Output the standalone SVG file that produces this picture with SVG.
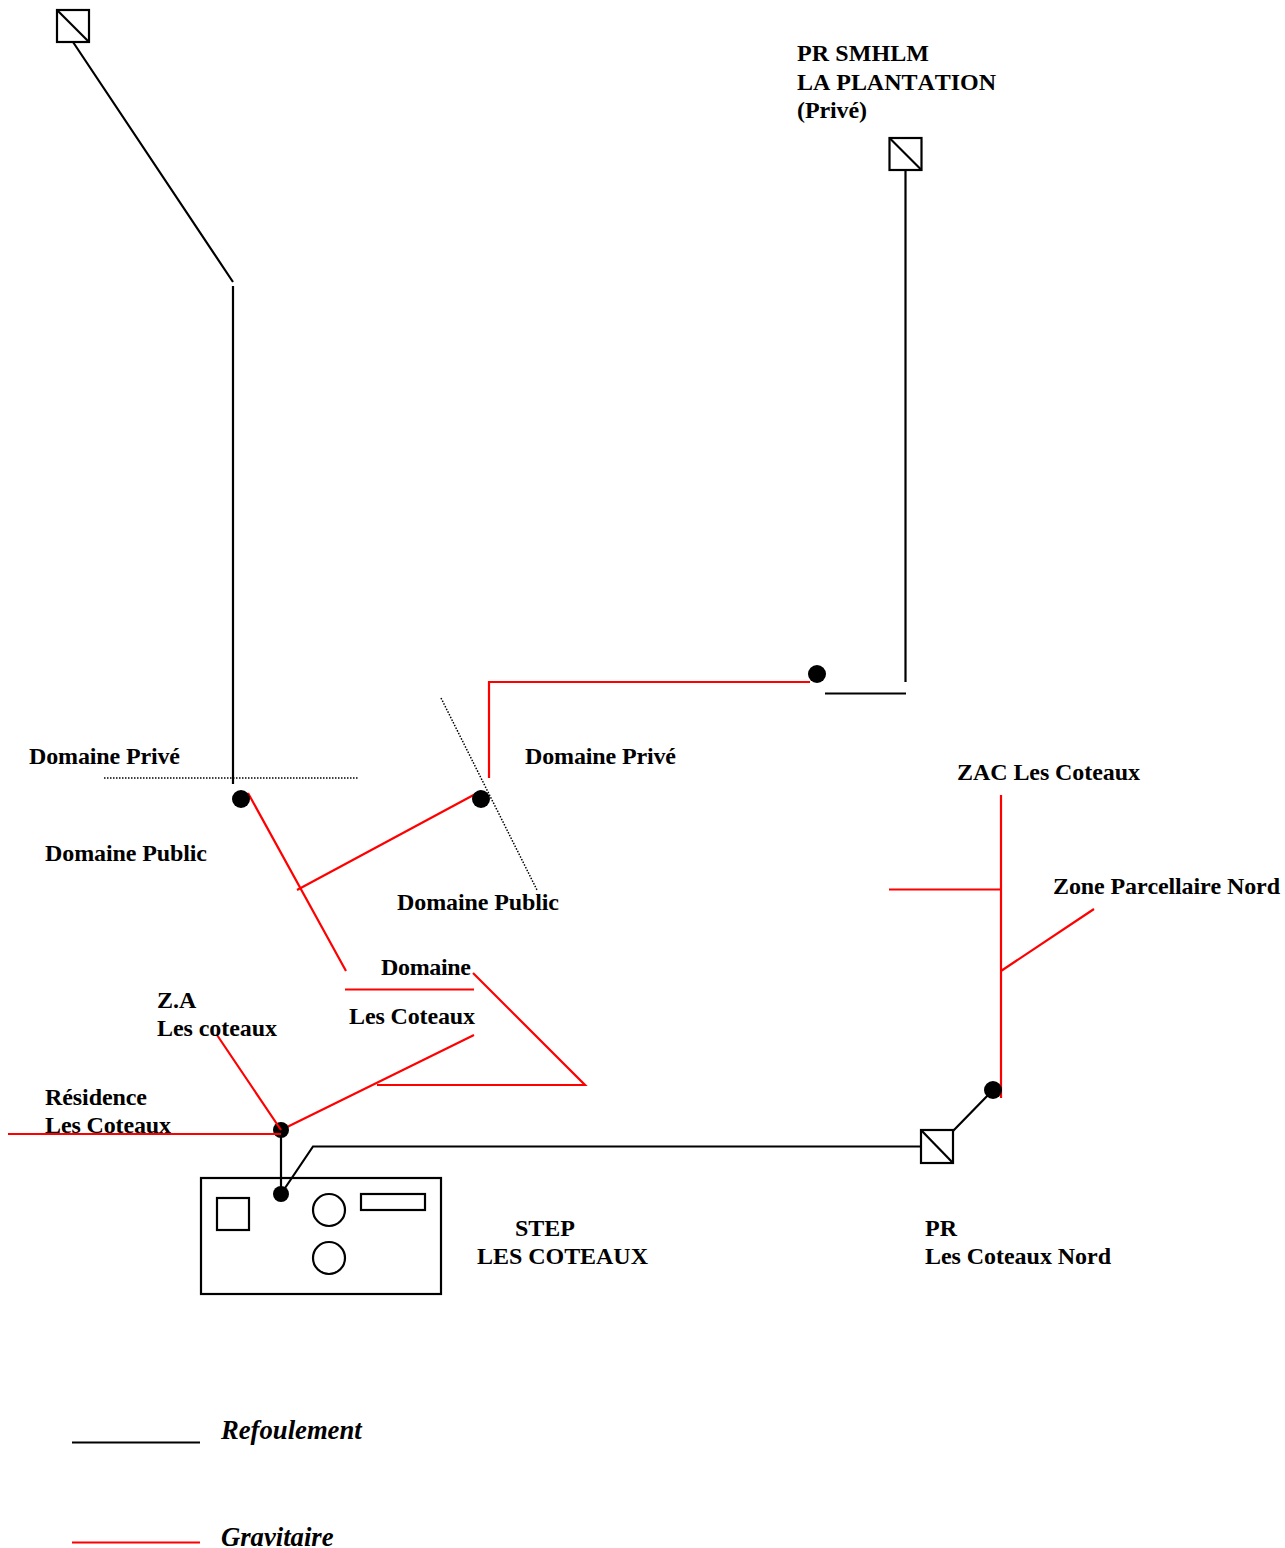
<svg xmlns="http://www.w3.org/2000/svg" width="1285" height="1548" viewBox="0 0 1285 1548">
<style>
text{font-family:"Liberation Serif","Times New Roman",serif;font-size:24px;font-weight:bold;fill:#000;font-kerning:none}
.i{font-style:italic;font-size:26.67px}
.k,.r,.d{fill:none;stroke-linecap:butt;stroke-linejoin:miter}
.k{stroke:#000;stroke-width:2.2}
.r{stroke:#f00;stroke-width:2.2}
.d{stroke:#000;stroke-width:1.5;stroke-dasharray:1.5 1.5}
.s{fill:#fff;stroke:#000;stroke-width:2.2}
.o{fill:none;stroke:#000;stroke-width:2.2}
.b{fill:#000}
</style>
<rect width="1285" height="1548" fill="#fff"/>
<g id="connectors">
<path class="k" d="M73 42L233 282M233 286V784M905.500 170V682M825 693.500H906M953 1131L993 1090M921 1146.500H313L281 1194M281 1130V1194"/>
<path class="d" d="M104 778H358M441 698L537 890"/>
<path class="r" d="M489 778V682H810M248 793L346 971M297 890L481 791M1001 795V1098M889 889.500H1001M1001 971L1094 909M345 989.500H474M473 973L585 1085H377M474 1035L281 1130"/>
</g>
<g id="pr-top-left"><rect class="s" x="57" y="10" width="32" height="32"/><path class="k" d="M57 10L89 42"/></g>
<g id="pr-smhlm"><rect class="s" x="889.500" y="138" width="32" height="32"/><path class="k" d="M889.500 138L921.500 170"/>
<text x="797" y="61" textLength="132">PR SMHLM</text><text x="797" y="90" textLength="199">LA PLANTATION</text><text x="797" y="118" textLength="70">(Privé)</text></g>
<g id="pr-nord"><rect class="s" x="921" y="1130" width="32" height="33"/><path class="k" d="M921 1130L953 1163"/>
<text x="925" y="1236">PR</text><text x="925" y="1264" textLength="186">Les Coteaux Nord</text></g>
<g id="junction-1"><circle class="b" cx="241" cy="799" r="9"/></g>
<g id="junction-2"><circle class="b" cx="481" cy="799" r="9"/></g>
<g id="junction-3"><circle class="b" cx="817" cy="674" r="9"/></g>
<g id="junction-4"><circle class="b" cx="993" cy="1090" r="9"/></g>
<g id="junction-5"><circle class="b" cx="281" cy="1130" r="8"/><path class="r" d="M8 1134H281M217 1035L281 1130"/></g>
<g id="step"><rect class="o" x="201" y="1178" width="240" height="116"/><rect class="o" x="217" y="1198" width="32" height="32"/><circle class="o" cx="329" cy="1210" r="16"/><circle class="o" cx="329" cy="1258" r="16"/><rect class="o" x="361" y="1194" width="64" height="16"/><circle class="b" cx="281" cy="1194" r="8"/>
<text x="515" y="1236">STEP</text><text x="477" y="1264" textLength="171">LES COTEAUX</text></g>
<g id="labels">
<text x="29" y="764" textLength="151">Domaine Privé</text>
<text x="45" y="861" textLength="162">Domaine Public</text>
<text x="525" y="764" textLength="151">Domaine Privé</text>
<text x="397" y="910" textLength="162">Domaine Public</text>
<text x="957" y="780" textLength="183">ZAC Les Coteaux</text>
<text x="1053" y="894" textLength="227">Zone Parcellaire Nord</text>
<text x="381" y="975" textLength="90">Domaine</text>
<text x="349" y="1024" textLength="126">Les Coteaux</text>
<text x="157" y="1008">Z.A</text>
<text x="157" y="1036" textLength="120">Les coteaux</text>
<text x="45" y="1105" textLength="102">Résidence</text>
<text x="45" y="1133" textLength="126">Les Coteaux</text>
</g>
<g id="legend">
<path class="k" d="M72 1442.500H200"/><path class="r" d="M72 1542.500H200"/>
<text class="i" x="221" y="1439">Refoulement</text>
<text class="i" x="221" y="1546">Gravitaire</text>
</g>
</svg>
